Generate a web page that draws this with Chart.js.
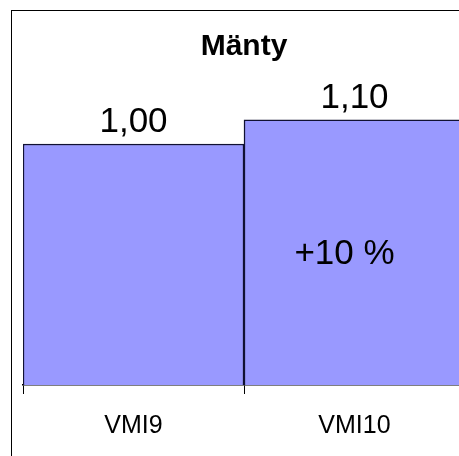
<!DOCTYPE html>
<html>
<head>
<meta charset="utf-8">
<script src="https://cdn.jsdelivr.net/npm/chart.js@4/dist/chart.umd.min.js"></script>
<style>
  html, body { margin: 0; padding: 0; background: #fff; overflow: hidden; width: 459px; height: 456px; }
  #frame { position: absolute; left: 11px; top: 10px; width: 600px; height: 600px;
           border-left: 1px solid #000; border-top: 1px solid #000; }
  #chart { position: absolute; left: 0; top: 0; }
</style>
</head>
<body>
<div id="frame"></div>
<canvas id="chart" width="480" height="470"></canvas>
<script>
// data
const categories = ['VMI9', 'VMI10'];
const values = [1.00, 1.10];
const notes = ['', '+10 %'];
const chartTitle = 'Mänty';

const font = "'Liberation Sans', Arial, sans-serif";

// labels above and inside the bars
const barLabels = {
    id: 'barLabels',
    afterDatasetsDraw(chart) {
        const ctx = chart.ctx;
        const bars = chart.getDatasetMeta(0).data;
        ctx.save();
        ctx.fillStyle = '#000';
        ctx.textAlign = 'center';
        bars.forEach(function(bar, i) {
            ctx.font = '35px ' + font;
            ctx.textBaseline = 'alphabetic';
            ctx.fillText(values[i].toFixed(2).replace('.', ','), bar.x, bar.y - 12);
            if (notes[i]) {
                ctx.textBaseline = 'middle';
                ctx.fillText(notes[i], bar.x - 10, (bar.y + bar.base) / 2 + 2);
            }
        });
        ctx.restore();
    }
};

const ctx = document.getElementById('chart').getContext('2d');

const chart = new Chart(ctx, {
    type: 'bar',
    data: {
        labels: categories,
        datasets: [{
            data: values,
            backgroundColor: '#9999ff',
            borderColor: '#111133',
            borderWidth: 1.5,
            categoryPercentage: 1,
            barPercentage: 1
        }]
    },
    options: {
        responsive: false,
        animation: false,
        devicePixelRatio: 1,
        layout: { padding: { left: 23, right: 15, top: 0, bottom: 0 } },
        plugins: {
            legend: { display: false },
            tooltip: { enabled: false },
            title: {
                display: true,
                text: chartTitle,
                color: '#000',
                font: { family: font, size: 30, weight: 'bold' },
                padding: { top: 28.5, bottom: 31.3 }
            }
        },
        scales: {
            x: {
                afterFit: function(scale) { scale.height = 85; },
                grid: { drawOnChartArea: false, drawTicks: true, tickLength: 9, color: '#000' },
                border: { display: true, color: '#000', width: 1.5 },
                ticks: { color: '#000', font: { family: font, size: 25 }, padding: 17 }
            },
            y: {
                display: false,
                min: 0,
                max: 1.2
            }
        }
    },
    plugins: [barLabels]
});
</script>
</body>
</html>
